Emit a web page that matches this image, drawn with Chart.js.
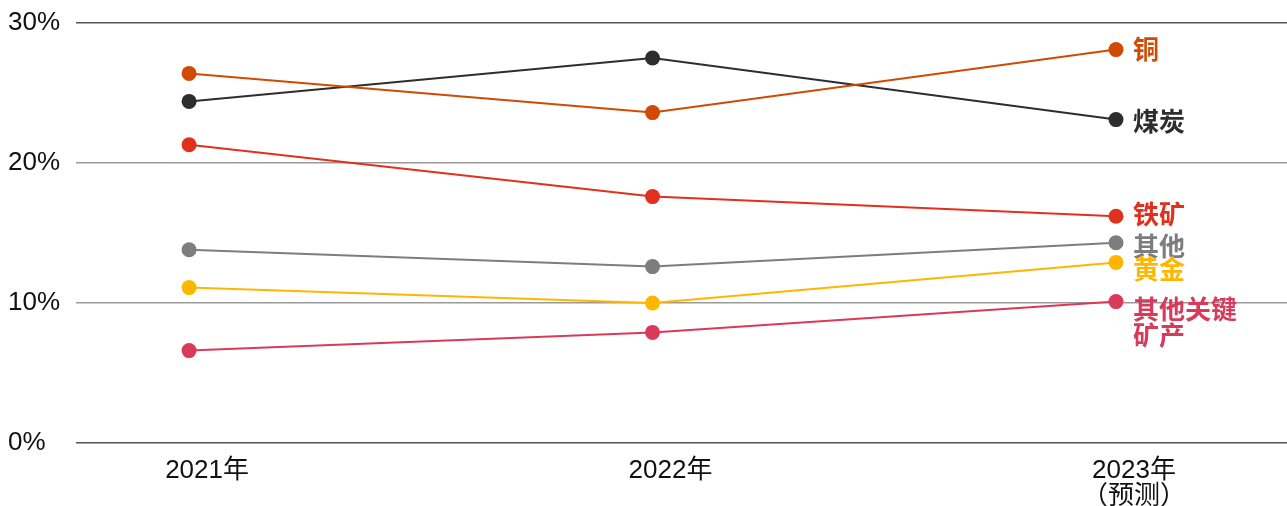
<!DOCTYPE html>
<html>
<head>
<meta charset="utf-8">
<script src="https://cdn.jsdelivr.net/npm/chart.js@4/dist/chart.umd.min.js"></script>
<style>
  html, body { margin: 0; padding: 0; background: #fff; overflow: hidden; }
  #wrap { width: 1287px; height: 506px; position: relative; }
  #chart { display: block; }
</style>
</head>
<body>
<div id="wrap"><canvas id="chart"></canvas></div>
<script>
// 年份与坐标轴标签
const years = [2021, 2022, 2023];
const xLabels = ['2021年', '2022年', ['2023年', '（预测）']];
const yTicks = [0, 10, 20, 30];

// 各矿种占比（%）
const copper = [26.4, 23.6, 28.1];
const coal = [24.4, 27.5, 23.1];
const ironOre = [21.3, 17.6, 16.2];
const others = [13.8, 12.6, 14.3];
const gold = [11.1, 10.0, 12.9];
const criticalMinerals = [6.6, 7.9, 10.1];

const seriesNames = ['铜', '煤炭', '铁矿', '其他', '黄金', ['其他关键', '矿产']];

const fontLatin = "'Liberation Sans', Arial, 'Noto Sans CJK SC', sans-serif";
const fontCJK = "'Noto Sans CJK SC', 'Liberation Sans', sans-serif";

function mkSeries(name, values, color) {
  return {
    label: Array.isArray(name) ? name.join('') : name,
    endLabel: name,
    data: values.map((v, i) => ({ x: years[i], y: v })),
    borderColor: color,
    backgroundColor: color,
    borderWidth: 2,
    pointRadius: 7.5,
    pointHoverRadius: 7.5,
    pointBorderWidth: 0,
    tension: 0
  };
}

const datasets = [
  mkSeries(seriesNames[0], copper, '#d04a02'),
  mkSeries(seriesNames[1], coal, '#2d2d2d'),
  mkSeries(seriesNames[2], ironOre, '#e0301e'),
  mkSeries(seriesNames[3], others, '#7d7d7d'),
  mkSeries(seriesNames[4], gold, '#ffb600'),
  mkSeries(seriesNames[5], criticalMinerals, '#d93a5a')
];

// 末端名称的竖直微调，避免文字重叠
const labelShift = [0, 2, -2, 3, 7, 8];

const endLabels = {
  id: 'endLabels',
  afterDatasetsDraw(chart) {
    const ctx = chart.ctx;
    ctx.save();
    ctx.font = "bold 26px " + fontCJK;
    ctx.textAlign = 'left';
    ctx.textBaseline = 'middle';
    chart.data.datasets.forEach((ds, i) => {
      const meta = chart.getDatasetMeta(i);
      const pt = meta.data[meta.data.length - 1];
      const lines = Array.isArray(ds.endLabel) ? ds.endLabel : [ds.endLabel];
      ctx.fillStyle = ds.borderColor;
      lines.forEach((t, j) => {
        ctx.fillText(t, pt.x + 17, pt.y + labelShift[i] + j * 26);
      });
    });
    ctx.restore();
  }
};

const config = {
  type: 'line',
  data: { datasets: datasets },
  plugins: [endLabels],
  options: {
    responsive: true,
    maintainAspectRatio: false,
    animation: false,
    layout: { autoPadding: false, padding: { top: 23, left: 8, right: 0, bottom: 0 } },
    plugins: {
      legend: { display: false },
      tooltip: { enabled: false }
    },
    scales: {
      x: {
        type: 'linear',
        min: 2020.756,
        max: 2023.369,
        afterBuildTicks: scale => { scale.ticks = years.map(v => ({ value: v })); },
        afterFit: scale => {
          scale.height = 63;
          scale.paddingLeft = 0;
          scale.paddingRight = 0;
        },
        grid: { display: false, drawTicks: false },
        border: { display: false },
        ticks: {
          padding: 15,
          labelOffset: 18,
          color: '#111',
          font: { family: fontLatin, size: 26, lineHeight: 1.0 },
          callback: (v, i) => xLabels[i]
        }
      },
      y: {
        min: 0,
        max: 30,
        afterBuildTicks: scale => { scale.ticks = yTicks.map(v => ({ value: v })); },
        afterFit: scale => { scale.width = 68; },
        grid: {
          drawTicks: false,
          lineWidth: 1.5,
          color: c => (c.tick && (c.tick.value === 0 || c.tick.value === 30)) ? '#555' : '#9a9a9a'
        },
        border: { display: false },
        ticks: {
          crossAlign: 'far',
          color: '#111',
          font: { family: fontLatin, size: 26 },
          callback: v => v + '%'
        }
      }
    }
  }
};

const chartElement = document.getElementById('chart');
const myChart = new Chart(chartElement, config);
</script>
</body>
</html>
